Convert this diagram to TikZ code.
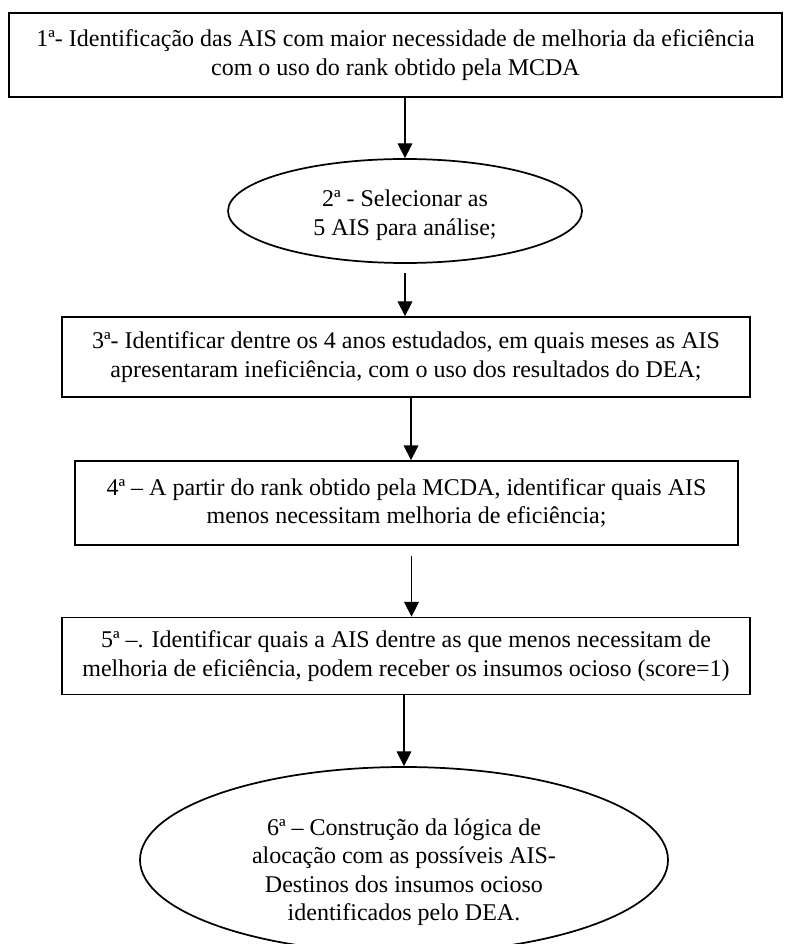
\documentclass[tikz,border=0pt]{standalone}
\usepackage{fontspec}
\setmainfont{Liberation Serif}
\usetikzlibrary{shapes.geometric,arrows.meta}

\begin{document}
\begin{tikzpicture}[x=0.75pt,y=-0.75pt,
  every node/.style={font=\fontsize{18pt}{21.4pt}\selectfont, align=center, inner sep=0pt},
  stepbox/.style={draw=black, line width=1.3pt, rectangle},
  stepoval/.style={draw=black, line width=1.3pt, ellipse},
  flow/.style={draw=black, line width=0.8pt, -{Triangle[width=11pt,length=11pt]}}]

  % page frame (pixel grid, y downwards)
  \useasboundingbox[fill=white] (0,0) rectangle (784,944);
  \clip (0,0) rectangle (784,944);

  % steps
  \node[stepbox, minimum width=579.75pt, minimum height=63pt] (b1) at (395.5,55)
    {1ª- Identificação das AIS com maior necessidade de melhoria da eficiência\\
     com o uso do rank obtido pela MCDA};

  \node[stepoval, minimum width=265.5pt, minimum height=78pt] (e2) at (405,211) {};
  \node (e2t) at (405,215) {2ª - Selecionar as\\5 AIS para análise;};

  \node[stepbox, minimum width=516pt, minimum height=60pt] (b3) at (406,357)
    {3ª- Identificar dentre os 4 anos estudados, em quais meses as AIS\\
     apresentaram ineficiência, com o uso dos resultados do DEA;};

  \node[stepbox, minimum width=497.25pt, minimum height=63pt] (b4) at (406.5,503)
    {4ª – A partir do rank obtido pela MCDA, identificar quais AIS\\
     menos necessitam melhoria de eficiência;};

  \node[stepbox, minimum width=516pt, minimum height=57.75pt] (b5) at (406,656)
    {5ª –. Identificar quais a AIS dentre as que menos necessitam de\\
     melhoria de eficiência, podem receber os insumos ocioso (score=1)};

  \node[stepoval, minimum width=396pt, minimum height=139.5pt] (e6) at (404,860) {};
  \node (e6t) at (404,872)
    {6ª – Construção da lógica de\\alocação com as possíveis AIS-\\
     Destinos dos insumos ocioso\\identificados pelo DEA.};

  % connectors
  \draw[flow] (b1.south -| e2.north) -- (e2.north);
  \draw[flow, shorten <=6.75pt] (e2.south) -- (b3.north -| e2.south);
  \draw[flow] ([xshift=3.75pt]b3.south) -- ([xshift=3.75pt]b3.south |- b4.north);
  \draw[flow, shorten <=7.5pt] ([xshift=3.75pt]b4.south) -- ([xshift=3.75pt]b4.south |- b5.north);
  \draw[flow] (b5.south -| e6.north) -- (e6.north);
\end{tikzpicture}
\end{document}
